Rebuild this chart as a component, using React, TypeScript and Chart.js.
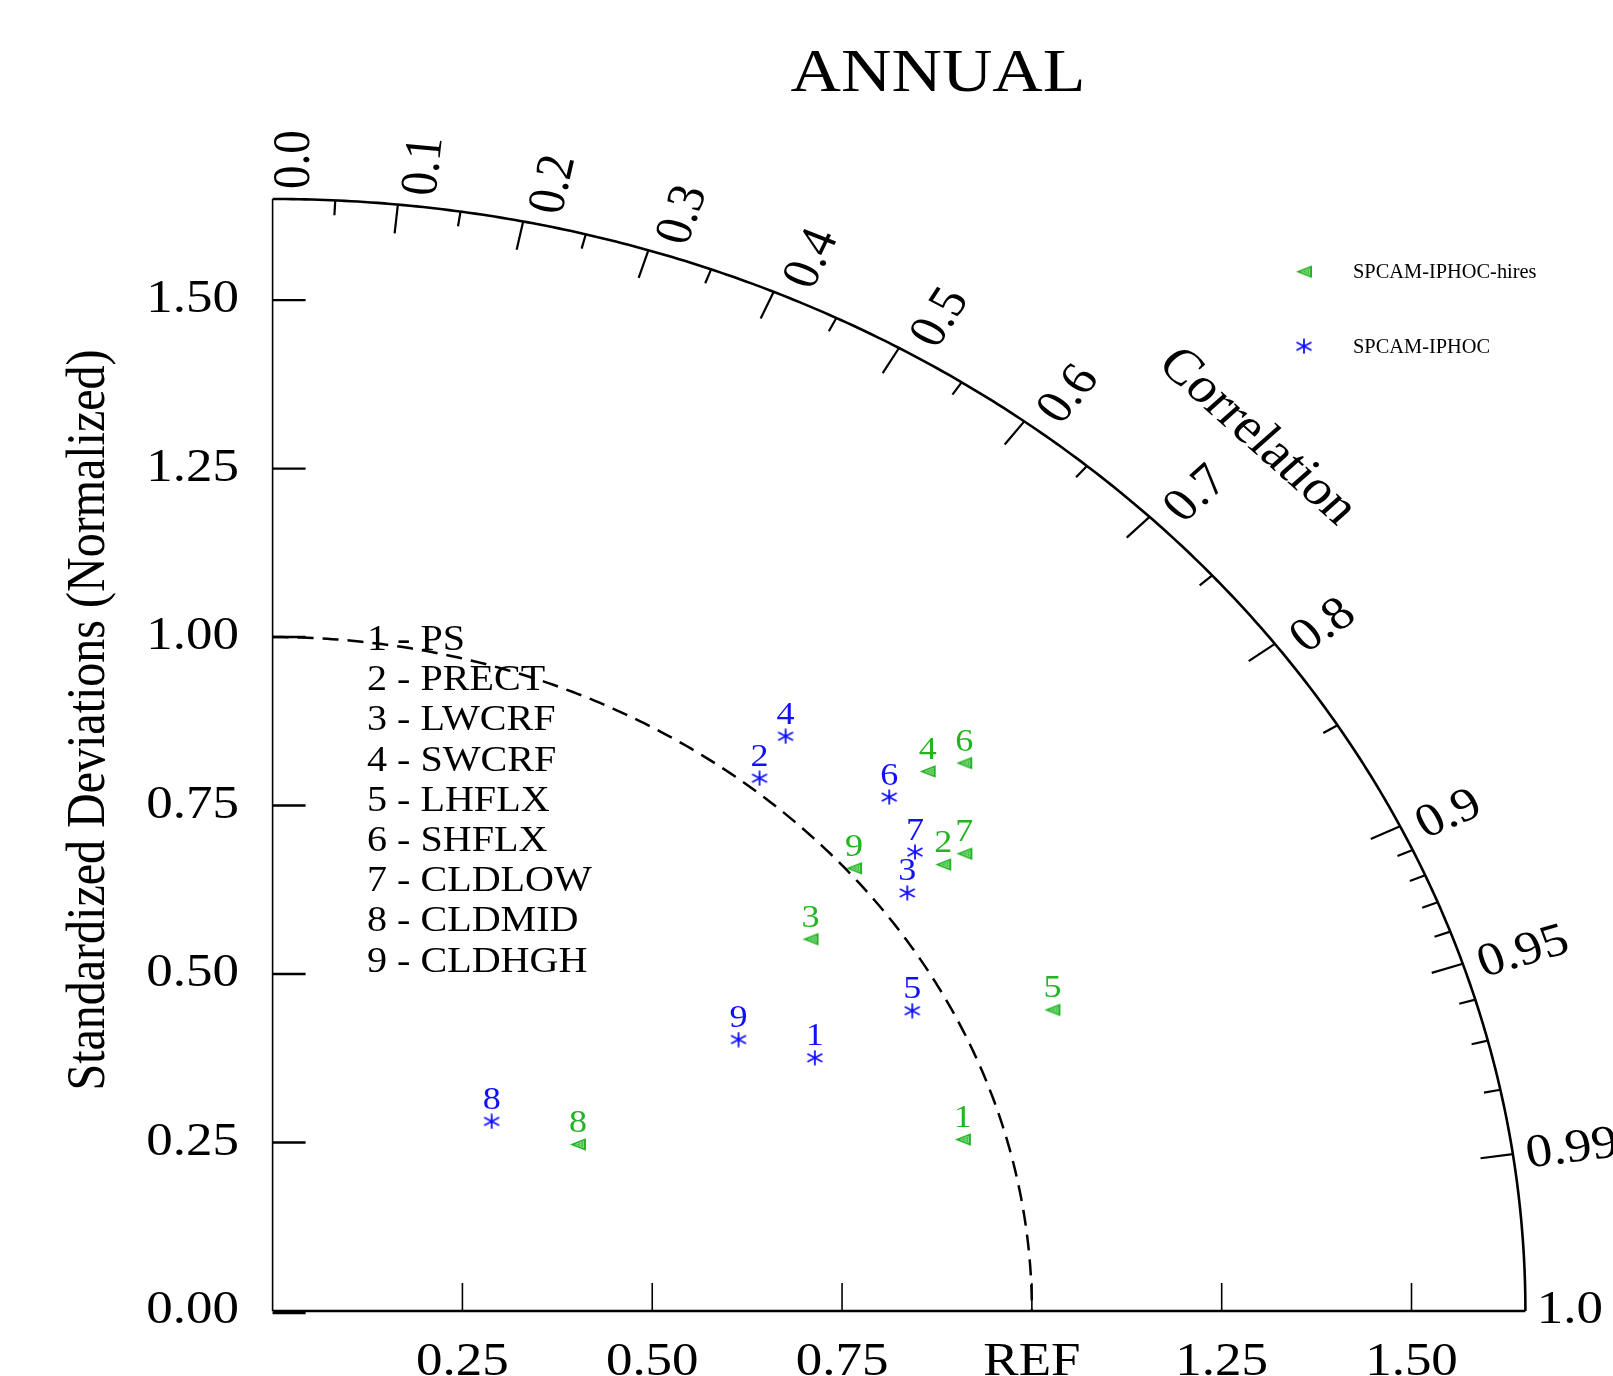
import React, { useEffect, useRef } from 'react';
import { Chart, registerables } from 'chart.js';

Chart.register(...registerables);

// ---------------- data ----------------
const TITLE = 'ANNUAL';
const variableNames = ['PS', 'PRECT', 'LWCRF', 'SWCRF', 'LHFLX', 'SHFLX', 'CLDLOW', 'CLDMID', 'CLDHGH'];
const seriesNames = ['SPCAM-IPHOC-hires', 'SPCAM-IPHOC'];
// normalized standard deviations and correlations, per variable
const hiresStd = [0.944, 1.104, 0.898, 1.177, 1.120, 1.221, 1.136, 0.472, 1.009];
const hiresCorr = [0.963, 0.800, 0.789, 0.733, 0.917, 0.746, 0.802, 0.852, 0.759];
const iphocStd = [0.807, 1.018, 1.041, 1.088, 0.953, 1.114, 1.086, 0.403, 0.734];
const iphocCorr = [0.885, 0.630, 0.803, 0.621, 0.884, 0.729, 0.779, 0.716, 0.836];

const STD_MAX = 1.65;
const REF_STD = 1.0;
const stdTicks = [0, 0.25, 0.5, 0.75, 1.0, 1.25, 1.5];
const yTickLabels = ['0.00', '0.25', '0.50', '0.75', '1.00', '1.25', '1.50'];
const xTickLabels = ['', '0.25', '0.50', '0.75', 'REF', '1.25', '1.50'];
const corrMajor = [0.0, 0.1, 0.2, 0.3, 0.4, 0.5, 0.6, 0.7, 0.8, 0.9, 0.95, 0.99, 1.0];
const corrMajorLabels = ['0.0', '0.1', '0.2', '0.3', '0.4', '0.5', '0.6', '0.7', '0.8', '0.9', '0.95', '0.99', '1.0'];
const corrMinor = [0.05, 0.15, 0.25, 0.35, 0.45, 0.55, 0.65, 0.75, 0.85, 0.91, 0.92, 0.93, 0.94, 0.96, 0.97, 0.98];

const GREEN = '#22b422';
const BLUE = '#1010ff';
const FONT = '"Liberation Serif", "Times New Roman", serif';

function toXY(std: number[], corr: number[]) {
  return std.map((s, i) => {
    const c = corr[i];
    return { x: s * c, y: s * Math.sqrt(1 - c * c) };
  });
}

function makeTriangle(): HTMLCanvasElement {
  const c = document.createElement('canvas');
  c.width = 18;
  c.height = 15;
  const g = c.getContext('2d')!;
  g.fillStyle = GREEN;
  g.beginPath();
  g.moveTo(1, 7.5);
  g.lineTo(17, 1.2);
  g.lineTo(17, 13.8);
  g.closePath();
  g.fill();
  g.strokeStyle = '#8fdc8f';
  g.lineWidth = 1;
  g.beginPath();
  g.moveTo(6.5, 7.5);
  g.lineTo(14.5, 4.3);
  g.lineTo(14.5, 10.7);
  g.closePath();
  g.stroke();
  g.beginPath();
  g.moveTo(10.5, 7.5);
  g.lineTo(12.8, 6.5);
  g.lineTo(12.8, 8.5);
  g.closePath();
  g.stroke();
  return c;
}

function makeAsterisk(): HTMLCanvasElement {
  const c = document.createElement('canvas');
  c.width = 18;
  c.height = 16;
  const g = c.getContext('2d')!;
  g.strokeStyle = BLUE;
  g.lineWidth = 1.8;
  g.lineCap = 'butt';
  g.beginPath();
  g.moveTo(9, 0.5);
  g.lineTo(9, 15.5);
  g.moveTo(1.5, 4);
  g.lineTo(16.5, 12);
  g.moveTo(1.5, 12);
  g.lineTo(16.5, 4);
  g.stroke();
  return c;
}

function drawText(
  ctx: CanvasRenderingContext2D,
  s: string,
  x: number,
  y: number,
  o: { size: number; align?: CanvasTextAlign; baseline?: CanvasTextBaseline; rot?: number; color?: string; sx?: number; dx?: number; dy?: number }
) {
  ctx.save();
  ctx.translate(x, y);
  ctx.scale(o.sx ?? 1, 1);
  ctx.rotate(o.rot ?? 0);
  ctx.font = `${o.size}px ${FONT}`;
  ctx.textAlign = o.align ?? 'left';
  ctx.textBaseline = o.baseline ?? 'alphabetic';
  ctx.fillStyle = o.color ?? '#000';
  ctx.fillText(s, o.dx ?? 0, o.dy ?? 0);
  ctx.restore();
}

export default function App() {
  const ref = useRef<HTMLCanvasElement | null>(null);

  useEffect(() => {
    if (!ref.current) return;
    const tri = makeTriangle();
    const ast = makeAsterisk();

    const taylorPlugin = {
      id: 'taylor',
      beforeDatasetsDraw(chart: any) {
        const ctx: CanvasRenderingContext2D = chart.ctx;
        const xs = chart.scales.x;
        const ys = chart.scales.y;
        const P = (x: number, y: number): [number, number] => [xs.getPixelForValue(x), ys.getPixelForValue(y)];
        ctx.save();
        ctx.strokeStyle = '#000';
        ctx.lineCap = 'butt';

        // reference (dashed) arc
        ctx.setLineDash([16, 9]);
        ctx.lineWidth = 2.5;
        ctx.beginPath();
        for (let k = 0; k <= 240; k++) {
          const a = Math.PI / 2 - (k / 240) * (Math.PI / 2);
          const [px, py] = P(REF_STD * Math.cos(a), REF_STD * Math.sin(a));
          if (k === 0) ctx.moveTo(px, py);
          else ctx.lineTo(px, py);
        }
        ctx.stroke();
        ctx.setLineDash([]);

        // outer arc
        ctx.lineWidth = 2.6;
        ctx.beginPath();
        for (let k = 0; k <= 300; k++) {
          const a = (k / 300) * (Math.PI / 2);
          const [px, py] = P(STD_MAX * Math.cos(a), STD_MAX * Math.sin(a));
          if (k === 0) ctx.moveTo(px, py);
          else ctx.lineTo(px, py);
        }
        ctx.stroke();

        // y axis
        ctx.lineWidth = 1.6;
        ctx.beginPath();
        let [ax, ay] = P(0, 0);
        let [bx, by] = P(0, STD_MAX);
        ctx.moveTo(ax, ay);
        ctx.lineTo(bx, by);
        ctx.stroke();
        // x axis
        ctx.lineWidth = 2.6;
        ctx.beginPath();
        [bx, by] = P(STD_MAX, 0);
        ctx.moveTo(ax, ay);
        ctx.lineTo(bx, by);
        ctx.stroke();

        // y ticks
        ctx.lineWidth = 2.4;
        stdTicks.forEach((v) => {
          const [px, py] = P(0, v);
          ctx.beginPath();
          ctx.moveTo(px, py + (v === 0 ? 2 : 0));
          ctx.lineTo(px + 33, py + (v === 0 ? 2 : 0));
          ctx.stroke();
        });
        // x ticks
        ctx.lineWidth = 1.6;
        stdTicks.forEach((v) => {
          if (v === 0) return;
          const [px, py] = P(v, 0);
          ctx.beginPath();
          ctx.moveTo(px, py);
          ctx.lineTo(px, py - 28);
          ctx.stroke();
        });

        // correlation ticks
        const corrTick = (c: number, len: number) => {
          const a = Math.acos(c);
          const [p1x, p1y] = P(STD_MAX * Math.cos(a), STD_MAX * Math.sin(a));
          const [p2x, p2y] = P((STD_MAX - len) * Math.cos(a), (STD_MAX - len) * Math.sin(a));
          ctx.beginPath();
          ctx.moveTo(p1x, p1y);
          ctx.lineTo(p2x, p2y);
          ctx.stroke();
        };
        ctx.lineWidth = 2.2;
        corrMajor.forEach((c) => {
          if (c === 0 || c === 1) return;
          corrTick(c, 0.043);
        });
        corrMinor.forEach((c) => corrTick(c, 0.022));
        ctx.restore();
      },
      afterDatasetsDraw(chart: any) {
        const ctx: CanvasRenderingContext2D = chart.ctx;
        const xs = chart.scales.x;
        const ys = chart.scales.y;
        const P = (x: number, y: number): [number, number] => [xs.getPixelForValue(x), ys.getPixelForValue(y)];
        const sx = (xs.getPixelForValue(1) - xs.getPixelForValue(0)) / (ys.getPixelForValue(0) - ys.getPixelForValue(1));

        // title
        drawText(ctx, TITLE, 938, 91, { size: 62, align: 'center', sx });

        // y axis title
        drawText(ctx, 'Standardized Deviations (Normalized)', 90, 720, {
          size: 48, align: 'center', baseline: 'middle', rot: -Math.PI / 2, sx,
        });

        // y tick labels
        stdTicks.forEach((v, i) => {
          const [, py] = P(0, v);
          drawText(ctx, yTickLabels[i], 239, py, { size: 47, align: 'right', baseline: 'middle', sx });
        });
        // x tick labels
        stdTicks.forEach((v, i) => {
          if (!xTickLabels[i]) return;
          const [px] = P(v, 0);
          drawText(ctx, xTickLabels[i], px, 1375, { size: 47, align: 'center', sx });
        });

        // correlation labels
        corrMajor.forEach((c, i) => {
          const a = Math.acos(c);
          const [px, py] = P(STD_MAX * Math.cos(a), STD_MAX * Math.sin(a));
          drawText(ctx, corrMajorLabels[i], px, py, {
            size: 47, align: 'left', baseline: 'middle', rot: -a, sx, dx: 10 + 6 * Math.sin(2 * a), dy: 20 * Math.sin(a),
          });
        });
        {
          const a = Math.PI / 4;
          const [px, py] = P(1.834 * Math.cos(a), 1.834 * Math.sin(a));
          drawText(ctx, 'Correlation', px, py, { size: 50, align: 'center', baseline: 'middle', rot: a, sx });
        }

        // variable list
        variableNames.forEach((n, i) => {
          drawText(ctx, `${i + 1} - ${n}`, 367, 650 + i * 40.2, { size: 35.6, sx });
        });

        // point number labels
        const colors = [GREEN, BLUE];
        chart.data.datasets.forEach((ds: any, di: number) => {
          const meta = chart.getDatasetMeta(di);
          meta.data.forEach((pt: any, i: number) => {
            drawText(ctx, String(i + 1), pt.x, pt.y - 12.5, { size: 32, align: 'center', color: colors[di], sx });
          });
        });

        // legend
        ctx.drawImage(tri, 1304 - tri.width / 2, 271.7 - tri.height / 2);
        ctx.drawImage(ast, 1304 - ast.width / 2, 346.3 - ast.height / 2);
        drawText(ctx, seriesNames[0], 1353, 278.3, { size: 20.4 });
        drawText(ctx, seriesNames[1], 1353, 352.7, { size: 20.4 });
      },
    };

    const chart = new Chart(ref.current, {
      type: 'scatter',
      data: {
        datasets: [
          {
            label: seriesNames[0],
            data: toXY(hiresStd, hiresCorr),
            pointStyle: tri as any,
            pointRadius: 7,
            showLine: false,
          },
          {
            label: seriesNames[1],
            data: toXY(iphocStd, iphocCorr),
            pointStyle: ast as any,
            pointRadius: 7,
            showLine: false,
          },
        ],
      },
      options: {
        responsive: false,
        animation: false,
        devicePixelRatio: 1,
        events: [],
        layout: { padding: { left: 272.6, right: 1613 - 1525.4, top: 199, bottom: 1376 - 1311 } },
        plugins: {
          legend: { display: false },
          title: { display: false },
          tooltip: { enabled: false },
        },
        scales: {
          x: { type: 'linear', min: 0, max: STD_MAX, display: false },
          y: { type: 'linear', min: 0, max: STD_MAX, display: false },
        },
      },
      plugins: [taylorPlugin],
    });
    return () => chart.destroy();
  }, []);

  return (
    <div style={{ position: 'fixed', left: 0, top: 0, width: 1613, height: 1376, background: '#fff', overflow: 'hidden' }}>
      <canvas ref={ref} width={1613} height={1376} style={{ display: 'block' }} />
    </div>
  );
}
